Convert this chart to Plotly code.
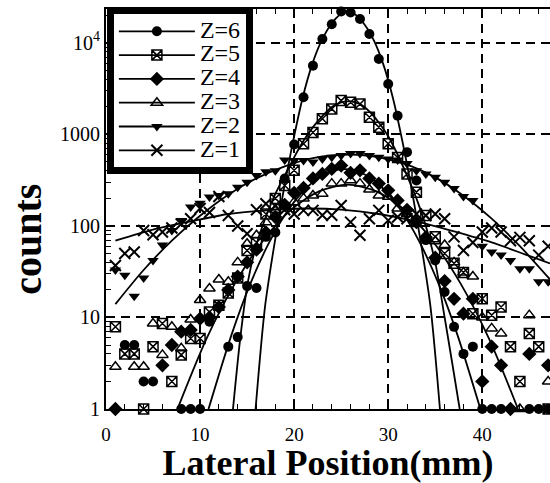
import plotly.graph_objects as go

FONT = "Liberation Serif"

# ---------------- data ----------------
z6_x = [2, 3, 4, 5, 8, 9, 10, 11, 13, 14, 15, 16, 17, 18, 19, 20, 21, 22, 23, 24, 25, 26, 27, 28, 29, 30,
        31, 32, 33, 34, 35, 36, 37, 38, 39, 40, 41, 42, 45, 46, 47]
z6_y = [5.0, 5.0, 2.0, 2.0, 1, 1, 1, 9.0, 4.8, 6.1, 22, 21, 76, 85, 330, 776, 2550, 5640, 11000, 16000,
        22000, 21500, 18200, 12500, 6650, 3560, 1600, 640, 314, 70, 42, 19, 7.9, 4.0, 4.8, 1, 1, 1, 1, 1, 1]

z5_x = list(range(1, 48))
z5_y = [7.9, 4.0, 4.0, 1, 4.8, 8.6, 2.0, 3.9, 5.9, 5.9, 11.5, 13.6, 18.5, 27, 54, 66, 135, 200, 277, 405,
        790, 1050, 1480, 1900, 2340, 2240, 2150, 1540, 1200, 790, 560, 370, 234, 130, 76, 50, 39, 31, 11, 16,
        10.6, 13, 4.8, 2.0, 6.7, 4.8, 1]

z4_x = [1, 6, 7, 8, 9, 10, 11, 12, 13, 14, 15, 16, 17, 18, 19, 20, 21, 22, 23, 24, 25, 26, 27, 28, 29, 30,
        31, 32, 33, 34, 35, 36, 37, 38, 39, 40, 41, 42, 43, 45, 47]
z4_y = [1, 3.0, 5.0, 7.0, 7.3, 9.7, 10, 13, 20, 28, 40, 55, 85, 125, 170, 230, 260, 330, 370, 420, 457, 380,
        405, 330, 290, 245, 190, 150, 110, 75, 45, 25, 16, 11, 16, 2.0, 4.8, 3.0, 1, 4.0, 3.0]

z3_x = [1, 3, 4, 5, 6, 7, 8, 9, 10, 11, 12, 13, 14, 15, 16, 17, 18, 19, 20, 21, 22, 23, 24, 25, 26, 27, 28,
        29, 30, 31, 32, 33, 34, 35, 36, 37, 38, 39, 40, 41, 42, 44, 45, 47]
z3_y = [2.9, 2.9, 2.9, 8.6, 3.9, 7.9, 4.6, 9.5, 15.5, 20.7, 26, 24.5, 40, 64, 79, 110, 150, 170, 182, 200,
        215, 224, 290, 290, 315, 290, 250, 215, 208, 155, 135, 105, 75, 68, 62, 40, 31, 28, 10, 7.6, 6.7, 1,
        10.6, 2.0]

z2_x = list(range(1, 48))
z2_y = [33, 29, 17, 27, 42, 62, 89, 115, 161, 177, 207, 215, 225, 265, 300, 355, 390, 400, 525, 520, 520,
        500, 537, 562, 590, 617, 617, 590, 562, 537, 525, 480, 400, 370, 340, 300, 257, 210, 190, 60, 52, 48,
        42, 34, 34, 24.5, 24.5]

z1_x = list(range(1, 48))
z1_y = [37, 50, 52, 89, 80, 86, 95, 105, 120, 155, 140, 210, 130, 100, 82, 150, 175, 165, 150, 135, 148,
        148, 131, 131, 167, 110, 79, 120, 148, 115, 125, 120, 135, 130, 135, 120, 76, 54, 66, 86, 95, 86, 69,
        75, 69, 48, 60]

# fitted curves
fit6_x = [15.9, 16.9, 17.9, 18.9, 19.9, 20.9, 21.9, 22.9, 23.9, 24.9, 25.7, 26.5, 27.5, 28.5, 29.5, 30.5,
          31.5, 32.5, 33.5, 34.5, 35.5]
fit6_y = [1, 13, 63, 250, 850, 2500, 5750, 10500, 15800, 20400, 21900, 20400, 15800, 10500, 5750, 2500,
          850, 250, 63, 13, 1]

fit5_x = [13.5, 14.3, 15.1, 16, 17, 18, 19, 20, 21, 22, 23, 24, 25, 26, 27, 28, 29, 30, 31, 32, 33, 34, 35,
          36, 36.8, 37.6]
fit5_y = [1, 6.3, 25, 63, 126, 224, 355, 562, 851, 1200, 1585, 1995, 2240, 2290, 2140, 1780, 1350, 955,
          603, 355, 200, 100, 40, 10, 3.2, 1]

fit4_x = [10.9, 13.35, 15.35, 17.35, 19.35, 21.35, 23.35, 25.35, 27.35, 29.35, 31.35, 33.35, 35.35, 37.35, 39.8]
fit4_y = [1, 6.5, 23.4, 66, 148, 263, 372, 417, 372, 263, 148, 66, 23.4, 6.5, 1]

fit3_x = [7.6, 10.7, 13.7, 16.7, 19.7, 22.7, 25.7, 28.7, 31.7, 34.7, 37.7, 40.7, 43.8]
fit3_y = [1, 5.9, 23.4, 69, 151, 240, 282, 240, 151, 69, 23.4, 5.9, 1]

fit2_x = [1, 4, 7, 10, 13, 16, 19, 22, 26, 29, 32, 35, 38, 41, 44, 47.2]
fit2_y = [14, 33, 69, 129, 219, 331, 447, 550, 603, 562, 468, 339, 214, 120, 60, 26]

fit1_x = [1, 5, 9, 13, 17, 21, 25, 29, 33, 37, 41, 45, 47.2]
fit1_y = [69, 91, 112, 135, 148, 155, 151, 135, 112, 87, 66, 47, 39]

names = ["Z=6", "Z=5", "Z=4", "Z=3", "Z=2", "Z=1"]
y_tickvals = [1, 10, 100, 1000, 10000]
y_ticktext = ["1", "10", "100", "1000", "10<sup>4</sup>"]

# ---------------- styles ----------------
markers = [
    dict(symbol="circle", size=10, color="black"),
    dict(symbol="square-x-open", size=10, color="black", line=dict(width=1.5, color="black")),
    dict(symbol="diamond", size=11, color="black"),
    dict(symbol="triangle-up-open", size=10, color="black", line=dict(width=1.5, color="black")),
    dict(symbol="triangle-down", size=10, color="black"),
    dict(symbol="x-thin-open", size=11, color="black", line=dict(width=2, color="black")),
]
data_sets = [(z6_x, z6_y), (z5_x, z5_y), (z4_x, z4_y), (z3_x, z3_y), (z2_x, z2_y), (z1_x, z1_y)]
fit_sets = [(fit6_x, fit6_y), (fit5_x, fit5_y), (fit4_x, fit4_y), (fit3_x, fit3_y), (fit2_x, fit2_y),
            (fit1_x, fit1_y)]

fig = go.Figure()

for fx, fy in fit_sets:
    fig.add_trace(go.Scatter(x=fx, y=fy, mode="lines", showlegend=False, hoverinfo="skip",
                             line=dict(color="black", width=1.8, shape="spline", smoothing=0.8)))

for name, (dx, dy), mk in zip(names, data_sets, markers):
    # gaps between points so no connecting line is drawn; the legend still shows line + symbol
    xs, ys = [], []
    for a, b in zip(dx, dy):
        xs += [a, None]
        ys += [b, None]
    fig.add_trace(go.Scatter(x=xs, y=ys, mode="lines+markers", connectgaps=False,
                             name='<span style="font-size:24px">' + name + "</span>",
                             line=dict(color="black", width=1.8), marker=mk, cliponaxis=False))

fig.add_annotation(text="counts", xref="paper", yref="paper", x=-0.176, y=0.425, showarrow=False,
                   textangle=-90, xanchor="center", yanchor="middle",
                   font=dict(family=FONT, size=40, color="black", weight="bold"))

grid_dash = "9px,6px"
fig.update_layout(
    width=550, height=483,
    margin=dict(l=106, r=0, t=9, b=74, autoexpand=False),
    paper_bgcolor="white", plot_bgcolor="white",
    font=dict(family=FONT, color="black"),
    showlegend=True,
    legend=dict(x=0.002, y=1.004, xanchor="left", yanchor="top", bgcolor="white", bordercolor="black",
                borderwidth=7, font=dict(family=FONT, size=16, color="black"), itemwidth=76,
                tracegroupgap=0),
    xaxis=dict(range=[0, 47.2], showline=True, linecolor="black", linewidth=2, mirror="ticks",
               ticks="inside", ticklen=9, tickwidth=1.5, tickcolor="black", tick0=0, dtick=10,
               showgrid=True, gridcolor="black", gridwidth=1.6, griddash=grid_dash, zeroline=False,
               automargin=False,
               tickfont=dict(family=FONT, size=19, color="black"), ticklabelstandoff=7,
               minor=dict(ticks="inside", ticklen=5, tickwidth=1.2, tickcolor="black", dtick=2,
                          showgrid=False),
               title=dict(text="Lateral Position(mm)", standoff=3,
                          font=dict(family=FONT, size=36, color="black", weight="bold"))),
    yaxis=dict(type="log", range=[0, 4.37], showline=True, linecolor="black", linewidth=2,
               ticks="inside", ticklen=9, tickwidth=1.5, tickcolor="black", automargin=False,
               tickmode="array", tickvals=y_tickvals, ticktext=y_ticktext,
               showgrid=True, gridcolor="black", gridwidth=1.6, griddash=grid_dash, zeroline=False,
               tickfont=dict(family=FONT, size=20, color="black"),
               minor=dict(ticks="inside", ticklen=5, tickwidth=1.2, tickcolor="black", dtick="D1",
                          showgrid=False)),
)

fig.write_html("out.html", config={"displayModeBar": False},
               post_script="document.body.style.margin='0px';")
